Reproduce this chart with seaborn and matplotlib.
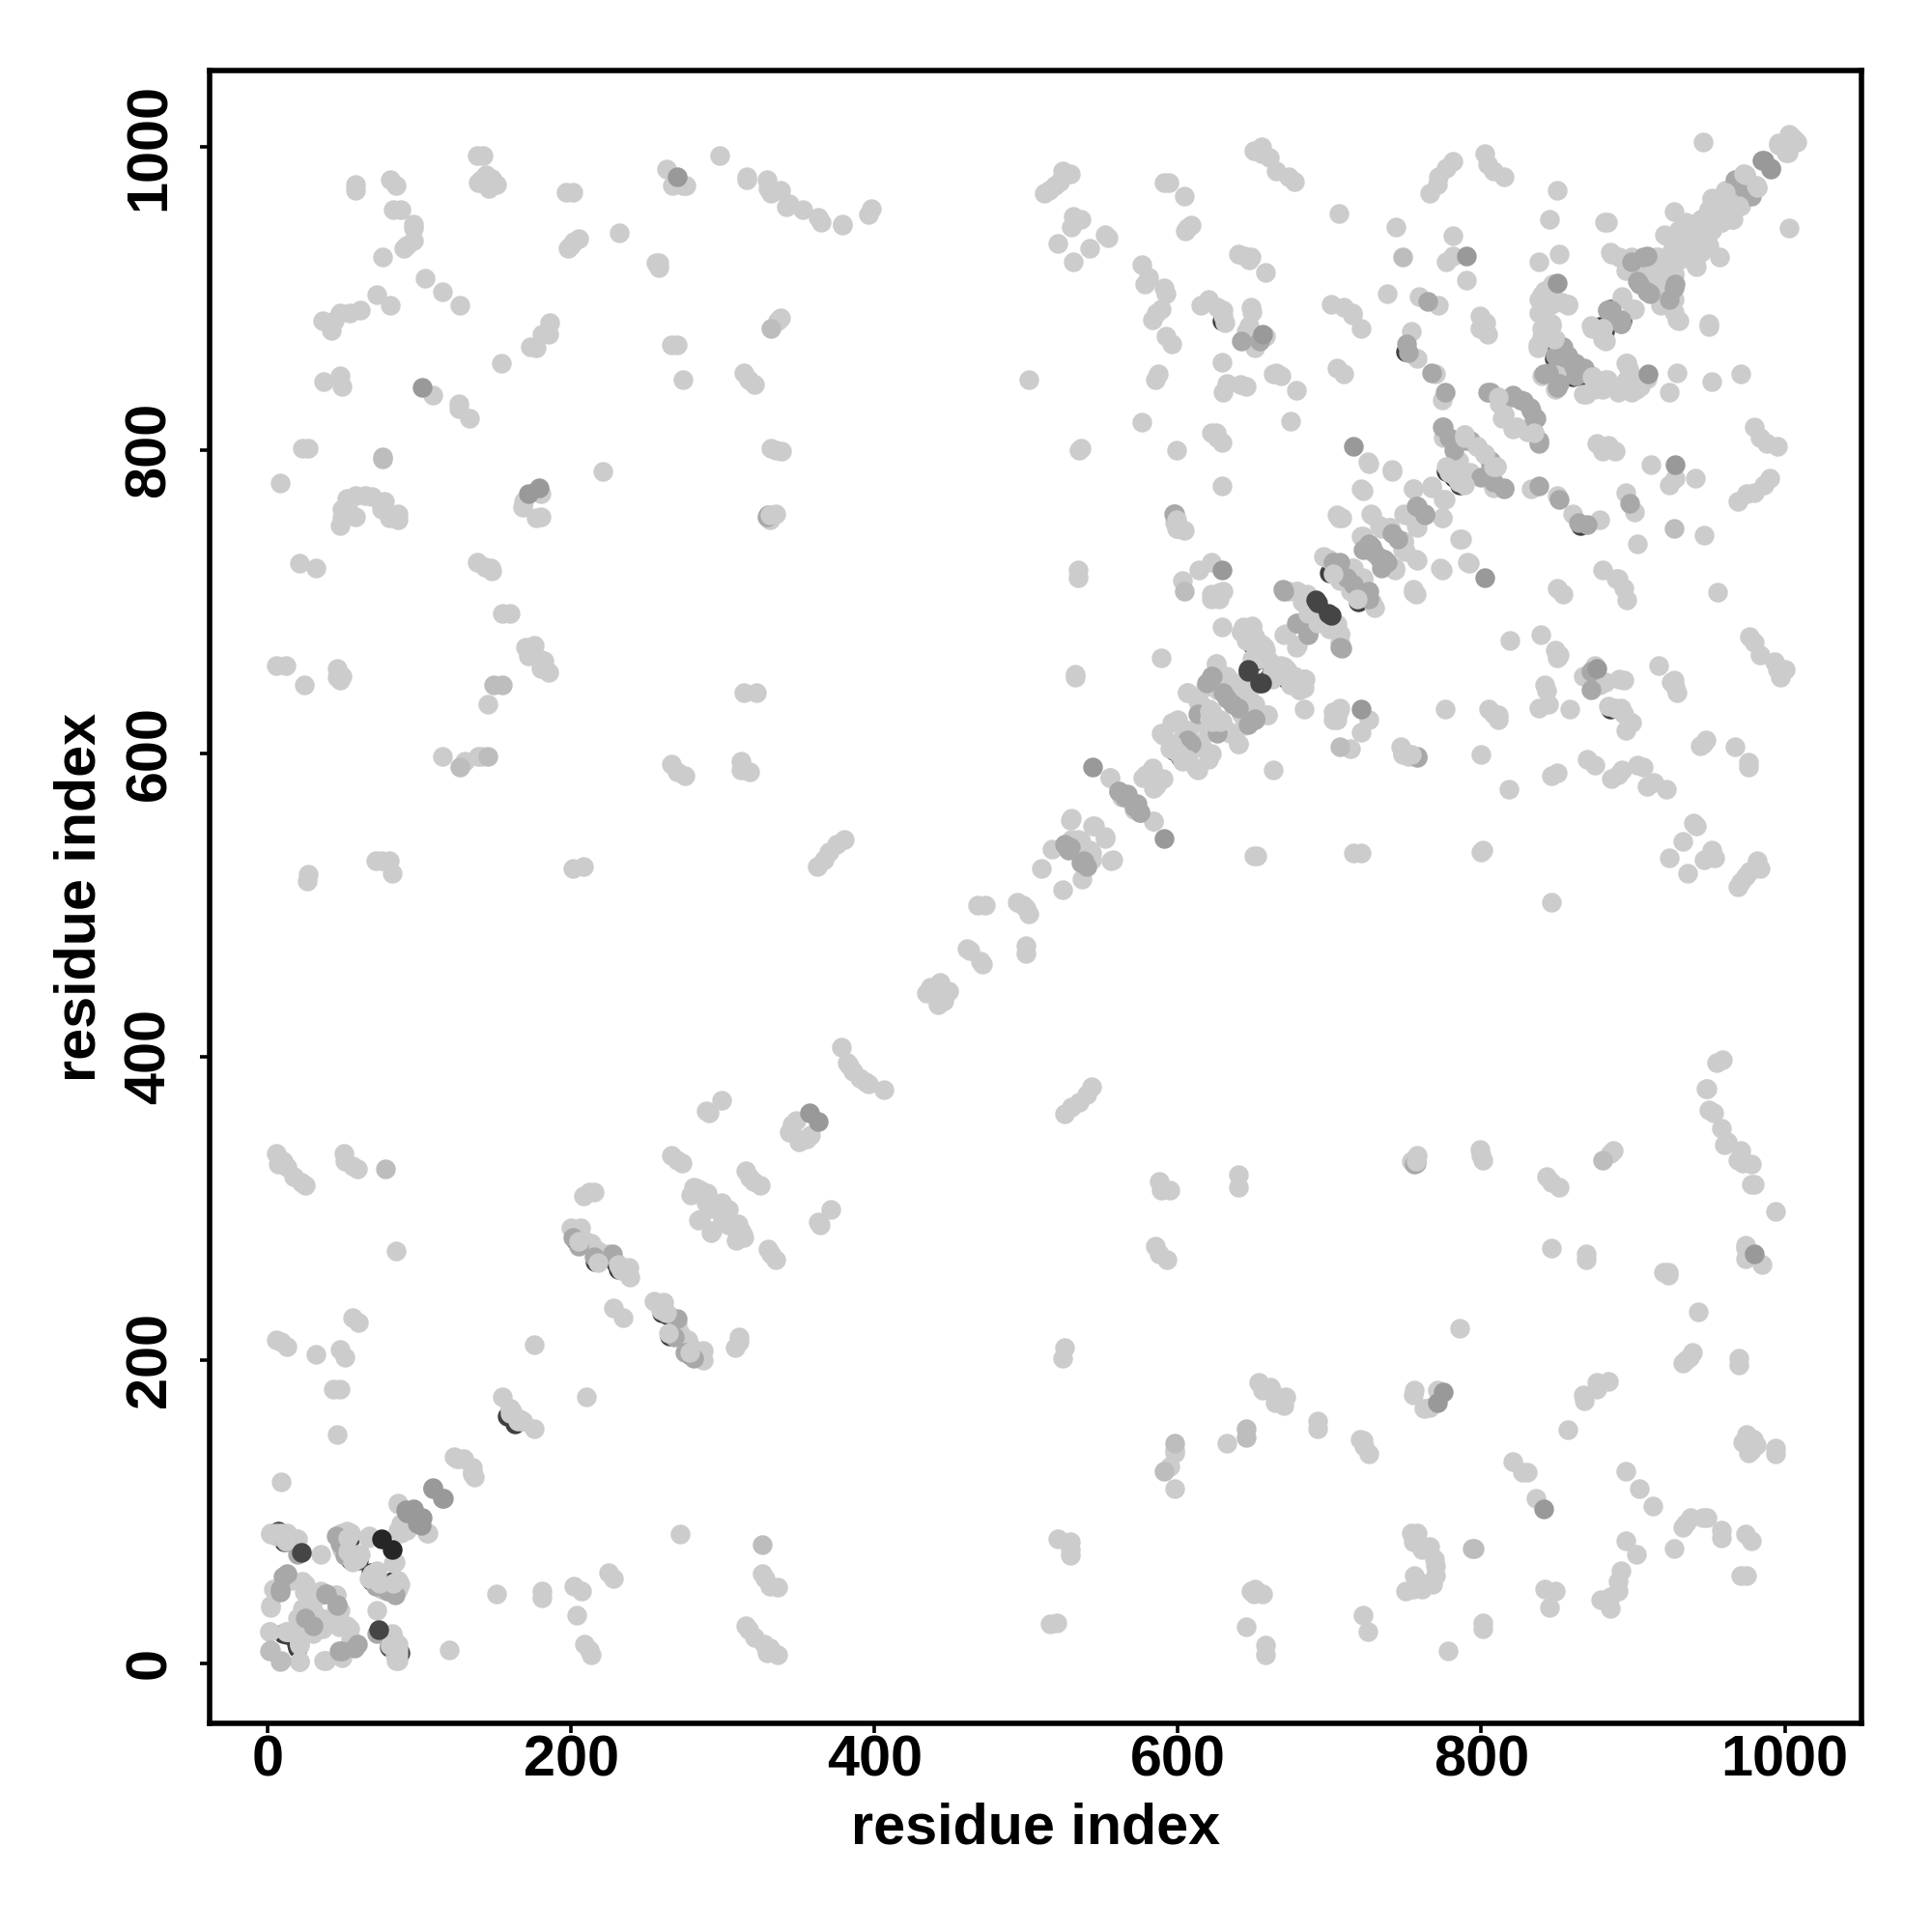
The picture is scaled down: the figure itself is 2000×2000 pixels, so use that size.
import pandas as pd
import matplotlib
matplotlib.use("Agg")
import matplotlib.pyplot as plt
import seaborn as sns

dark_under = [(7, 87), (55, 68), (68, 60), (82, 54), (52, 75), (10, 20), (19, 13), (80, 11), (158, 163), (164, 159),
              (229, 264), (203, 279), (216, 265), (231, 260), (629, 885), (649, 672), (652, 663), (662, 655),
              (668, 653), (619, 624), (597, 602), (690, 687), (700, 719), (660, 650), (626, 622), (604, 597),
              (849, 865), (866, 850), (860, 848), (853, 860), (878, 881), (889, 886), (777, 786), (787, 778),
              (782, 782), (750, 865), (885, 893)]

mid = [(12, 80), (48, 79), (51, 71), (75, 52), (84, 45), (10, 57), (8, 47), (39, 46), (46, 38), (25, 30),
       (59, 13), (49, 8), (72, 20), (201, 281), (205, 275), (215, 268), (227, 270), (329, 756), (330, 757),
       (642, 872), (654, 872), (597, 758), (598, 758), (622, 651), (630, 640), (636, 632), (646, 619),
       (651, 623), (613, 626), (609, 606), (561, 575), (567, 573), (575, 561), (571, 565), (525, 540),
       (528, 536), (538, 529), (670, 707), (679, 686), (686, 678), (708, 669), (702, 726), (711, 716),
       (726, 707), (729, 732), (736, 728), (726, 738), (969, 978), (975, 969), (978, 967), (907, 927),
       (899, 924), (903, 911), (909, 904), (928, 909), (883, 892), (892, 883), (854, 864), (862, 857),
       (868, 854), (841, 850), (851, 844), (804, 838), (820, 835), (828, 832), (833, 826), (836, 821),
       (838, 806), (774, 815), (779, 808), (790, 806), (806, 793), (815, 775), (800, 782), (758, 763),
       (763, 757), (745, 741), (722, 734), (733, 729), (765, 898), (751, 870), (767, 851), (776, 838),
       (851, 866), (868, 851), (862, 849), (855, 861), (890, 885), (886, 892), (752, 864)]

light_low = [(58, 975), (58, 971), (81, 978), (85, 974), (83, 958), (88, 958), (96, 949), (96, 946), (96, 938),
             (90, 933), (92, 935), (76, 927), (104, 913), (115, 904), (127, 895), (72, 902), (81, 895), (36, 885),
             (42, 879), (44, 885), (48, 890), (54, 890), (61, 892), (37, 845), (48, 849), (49, 842), (109, 836),
             (126, 830), (126, 827), (133, 821), (154, 857), (173, 868), (177, 867), (181, 876), (185, 876),
             (186, 884), (138, 994), (142, 994), (139, 976), (144, 981), (151, 975), (146, 972), (141, 978),
             (148, 979), (197, 970), (201, 970), (198, 933), (202, 937), (205, 939), (200, 935), (232, 943),
             (256, 923), (258, 920), (258, 923), (263, 985), (267, 974), (274, 974), (276, 974), (266, 869),
             (270, 869), (274, 846), (298, 994), (316, 980), (316, 978), (314, 851), (317, 846), (321, 843),
             (23, 801), (27, 801), (8, 778), (48, 750), (49, 755), (49, 761), (52, 768), (58, 770), (64, 770),
             (69, 769), (77, 766), (75, 761), (80, 755), (86, 754), (58, 756), (86, 758), (53, 761), (221, 786),
             (168, 762), (180, 771), (177, 755), (180, 756), (169, 766), (21, 725), (32, 722), (138, 726),
             (147, 722), (148, 720), (143, 723), (155, 692), (160, 692), (6, 658), (12, 658), (24, 645), (46, 656),
             (49, 651), (48, 648), (46, 650), (170, 670), (176, 671), (172, 664), (179, 662), (182, 661), (185, 653),
             (180, 656), (174, 667), (314, 640), (322, 640), (145, 632), (115, 598), (130, 595), (139, 598),
             (141, 598), (266, 593), (270, 588), (275, 585), (312, 595), (312, 589), (318, 588), (26, 516),
             (27, 520), (71, 529), (75, 529), (80, 529), (82, 521), (201, 524), (208, 525), (299, 371), (289, 364),
             (291, 363), (6, 336), (10, 331), (13, 327), (17, 321), (22, 317), (25, 315), (7, 329), (50, 336),
             (51, 331), (56, 328), (59, 326), (208, 308), (212, 311), (215, 311), (266, 335), (273, 330), (270, 332),
             (315, 325), (320, 318), (85, 272), (46, 151), (9, 120), (32, 204), (48, 207), (51, 202), (56, 228),
             (60, 225), (9, 212), (13, 209), (6, 213), (43, 181), (48, 181), (176, 210), (155, 176), (168, 160),
             (160, 168), (200, 287), (206, 287), (209, 279), (213, 277), (224, 270), (232, 262), (238, 261),
             (239, 255), (218, 272), (228, 234), (125, 135), (129, 135), (135, 126), (136, 123), (86, 105),
             (86, 88), (92, 88), (86, 106), (67, 84), (66, 83), (35, 72), (2, 86), (13, 86), (19, 82), (6, 84),
             (49, 86), (55, 86), (59, 72), (72, 61), (87, 52), (85, 48), (75, 49), (16, 55), (25, 52), (24, 47),
             (48, 35), (2, 37), (23, 36), (27, 36), (36, 29), (54, 23), (1, 21), (18, 20), (21, 14), (56, 11),
             (76, 20), (82, 20), (84, 13), (86, 6), (85, 2), (21, 1), (38, 2), (49, 4), (8, 48), (45, 45), (30, 35),
             (35, 45), (20, 30), (281, 314), (279, 309), (285, 312), (289, 304), (299, 304), (284, 292), (285, 293),
             (283, 313), (290, 310), (293, 300), (295, 302), (367, 530), (370, 535), (375, 540), (380, 543),
             (362, 525), (378, 406), (383, 394), (386, 390), (382, 396), (434, 442), (437, 446), (443, 449),
             (461, 471), (463, 470), (468, 500), (473, 500), (494, 502), (498, 500), (344, 350), (346, 355),
             (348, 358), (345, 352)]

light_high = [(329, 978), (330, 972), (338, 971), (332, 969), (344, 962), (342, 960), (353, 958), (363, 953), (365, 950),
              (379, 949), (379, 948), (398, 959), (396, 955), (338, 887), (336, 885), (332, 801), (335, 800),
              (339, 799), (335, 758), (331, 754), (524, 984), (529, 982), (519, 974), (512, 969), (515, 971),
              (522, 977), (531, 954), (536, 952), (530, 947), (552, 942), (554, 940), (521, 936), (542, 933),
              (531, 924), (502, 846), (594, 976), (591, 976), (604, 967), (609, 948), (605, 944), (606, 946),
              (576, 922), (581, 914), (578, 909), (591, 907), (592, 903), (589, 893), (583, 886), (592, 875),
              (596, 870), (586, 890), (587, 850), (585, 846), (576, 818), (536, 801), (535, 800), (599, 800),
              (629, 776), (598, 752), (602, 748), (600, 748), (534, 721), (534, 716), (603, 714), (614, 721),
              (622, 726), (622, 702), (628, 706), (622, 705), (629, 683), (643, 683), (649, 683), (615, 895),
              (620, 899), (630, 892), (630, 888), (626, 894), (649, 891), (647, 882), (658, 875), (651, 867),
              (645, 878), (629, 858), (632, 844), (630, 838), (641, 843), (645, 842), (663, 850), (625, 811),
              (622, 811), (629, 805), (626, 808), (644, 928), (647, 925), (640, 929), (658, 917), (650, 997),
              (655, 1000), (655, 995), (665, 984), (660, 993), (673, 980), (677, 977), (648, 927), (648, 894),
              (648, 878), (665, 851), (668, 849), (678, 839), (674, 819), (701, 896), (709, 894), (715, 890),
              (721, 880), (705, 854), (709, 850), (706, 956), (722, 773), (705, 757), (708, 755), (599, 748),
              (604, 747), (630, 707), (627, 702), (532, 652), (532, 650), (589, 663), (642, 680), (649, 684),
              (645, 674), (655, 672), (658, 668), (662, 659), (670, 657), (677, 651), (683, 649), (680, 642),
              (673, 649), (625, 659), (618, 644), (632, 651), (626, 642), (639, 642), (647, 642), (647, 632),
              (659, 625), (643, 627), (606, 640), (613, 634), (622, 628), (629, 621), (632, 615), (640, 606),
              (620, 615), (590, 612), (599, 621), (596, 620), (607, 615), (603, 610), (596, 603), (615, 606),
              (622, 600), (613, 589), (603, 595), (555, 584), (583, 586), (579, 586), (590, 583), (584, 577),
              (563, 571), (584, 555), (529, 556), (545, 552), (552, 544), (534, 543), (517, 537), (542, 536),
              (557, 530), (510, 524), (543, 530), (670, 678), (679, 671), (678, 707), (682, 700), (705, 685),
              (707, 679), (707, 673), (696, 730), (707, 714), (715, 722), (722, 716), (715, 708), (728, 700),
              (722, 743), (728, 757), (733, 750), (1003, 1008), (996, 1001), (1002, 996), (1006, 1005), (974, 981),
              (982, 973), (952, 965), (961, 971), (964, 958), (970, 961), (955, 954), (966, 952), (940, 949),
              (949, 941), (934, 941), (942, 937), (927, 957), (922, 941), (930, 933), (938, 931), (927, 924),
              (942, 921), (927, 916), (927, 899), (930, 885), (924, 895), (915, 927), (886, 929), (891, 927),
              (881, 950), (883, 950), (917, 914), (893, 900), (901, 893), (873, 880), (882, 872), (946, 1003),
              (850, 971), (845, 952), (851, 929), (838, 924), (847, 909), (838, 899), (853, 897), (857, 895),
              (845, 895), (838, 890), (846, 882), (840, 880), (837, 869), (849, 873), (851, 857), (849, 840),
              (873, 848), (867, 837), (883, 846), (874, 840), (896, 857), (897, 842), (902, 840), (896, 846),
              (799, 888), (803, 884), (804, 876), (799, 880), (781, 941), (781, 928), (777, 924), (790, 912),
              (744, 947), (772, 980), (766, 969), (777, 986), (781, 990), (771, 975), (802, 995), (804, 988),
              (815, 980), (808, 984), (738, 903), (759, 901), (772, 895), (754, 878), (758, 860), (770, 850),
              (774, 833), (715, 889), (811, 835), (815, 823), (821, 814), (830, 812), (789, 808), (797, 802),
              (802, 797), (810, 789), (808, 775), (785, 793), (788, 782), (779, 789), (726, 791), (741, 786),
              (755, 774), (767, 775), (776, 767), (774, 755), (758, 749), (750, 757), (740, 749), (734, 748),
              (749, 739), (758, 727), (743, 721), (722, 742), (787, 741), (792, 725), (774, 721), (755, 706)]

# extra body of the diagonal band at the top right
light_band = [(945, 952), (950, 958), (957, 962), (960, 965), (952, 945), (958, 950), (972, 965), (965, 972),
              (935, 930), (925, 930), (920, 920), (945, 935), (935, 950), (930, 945), (915, 915), (922, 905),
              (918, 895), (841, 875), (843, 885), (842, 905), (848, 900)]

# light points sitting right over darker ones, so only a crescent stays visible
light_cover = [(9, 86), (56, 67), (69, 59), (83, 53), (53, 74), (12, 21), (21, 13), (81, 12), (160, 165), (166, 161),
               (231, 263), (205, 278), (218, 264), (233, 259), (631, 884), (651, 671), (654, 662), (664, 654),
               (670, 652), (621, 623), (599, 601), (692, 686), (702, 718), (662, 649), (628, 621), (606, 596),
               (880, 880), (779, 785), (789, 777), (784, 781), (811, 835), (815, 823), (810, 789), (797, 802),
               (789, 808), (974, 981), (982, 973), (970, 961), (873, 848), (896, 857), (331, 757), (599, 754)]

pale = [(76, 794), (76, 795), (149, 645), (155, 645), (127, 591), (145, 598), (78, 326), (1, 8), (9, 2), (332, 880),
        (604, 707), (748, 927)]

top_mid = [(102, 841), (172, 771), (179, 775), (270, 980), (109, 115), (116, 109), (96, 102), (91, 101), (92, 99),
           (357, 363), (656, 876), (716, 802), (629, 721), (544, 591), (790, 928), (986, 991), (991, 985), (850, 910)]

top_dark = [(22, 73), (646, 654), (655, 646), (691, 701), (699, 692)]

top_black = [(75, 82)]

layers = [(dark_under, 0.25), (light_low, 0.8), (light_high, 0.8), (light_band, 0.8), (mid, 0.66), (light_cover, 0.8),
          (pale, 0.74), (top_mid, 0.6), (top_dark, 0.27), (top_black, 0.15)]

sns.set_theme(style="white")
plt.rcParams['font.family'] = ['Liberation Sans', 'DejaVu Sans']
plt.rcParams['font.weight'] = 'bold'

fig = plt.figure(figsize=(10, 10), dpi=200)
ax = fig.add_axes([0.1085, 0.108, 0.855, 0.8555])

for pts, grey in layers:
    df = pd.DataFrame(pts, columns=['i', 'j'])
    # the map is symmetric so every contact goes in twice
    both = pd.concat([df, df.rename(columns={'i': 'j', 'j': 'i'})])
    sns.scatterplot(data=both, x='i', y='j', color=str(grey), s=54, linewidth=0, ax=ax, legend=False, zorder=3)

ax.set_xlim(-38.2, 1050.6)
ax.set_ylim(-39.5, 1050)
ax.set_xticks([0, 200, 400, 600, 800, 1000])
ax.set_yticks([0, 200, 400, 600, 800, 1000])
ax.tick_params(axis='both', direction='out', length=3.5, width=1.3, color='black', labelcolor='black',
               labelsize=21.4, left=True, bottom=True)
ax.tick_params(axis='x', pad=0.5)
ax.tick_params(axis='y', pad=8.7)
plt.setp(ax.get_yticklabels(), rotation=90, va='center')
ax.set_xlabel('residue index', fontsize=21.4, fontweight='bold', color='black', labelpad=5.7)
ax.set_ylabel('residue index', fontsize=21.4, fontweight='bold', color='black', labelpad=6.4)
for s in ax.spines.values():
    s.set_linewidth(2)
    s.set_color('black')

plt.savefig('out.png', dpi=200)
